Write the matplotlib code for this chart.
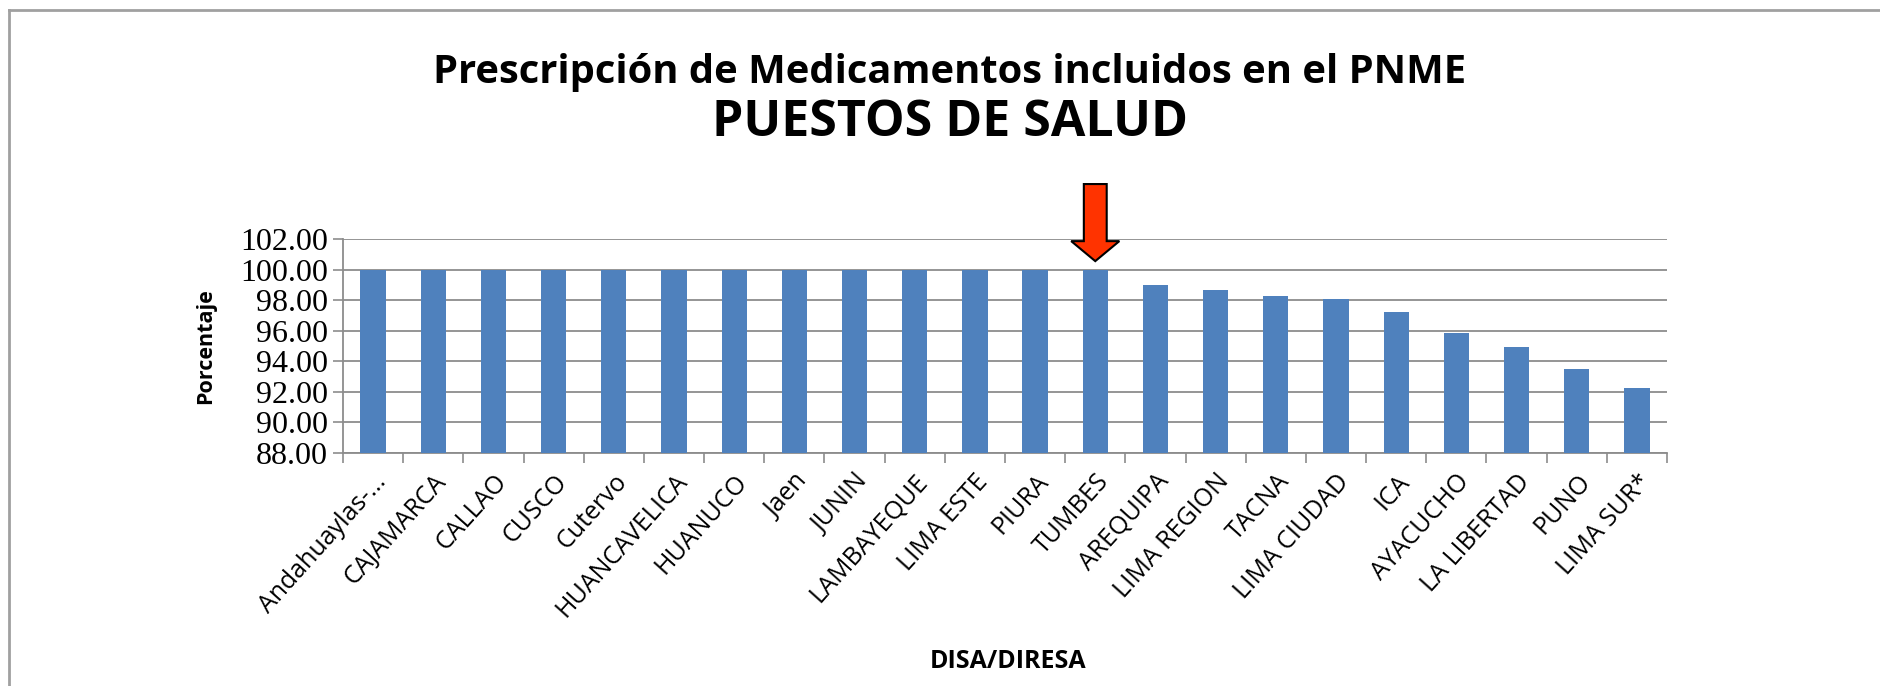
import matplotlib
matplotlib.use("Agg")
import matplotlib.pyplot as plt
from matplotlib.lines import Line2D
from matplotlib.patches import FancyArrow
import numpy as np

# ---- data ----
categories = ["Andahuaylas-...", "CAJAMARCA", "CALLAO", "CUSCO", "Cutervo",
              "HUANCAVELICA", "HUANUCO", "Jaen", "JUNIN", "LAMBAYEQUE",
              "LIMA ESTE", "PIURA", "TUMBES", "AREQUIPA", "LIMA REGION",
              "TACNA", "LIMA CIUDAD", "ICA", "AYACUCHO", "LA LIBERTAD",
              "PUNO", "LIMA SUR*"]
values = [100.0, 100.0, 100.0, 100.0, 100.0, 100.0, 100.0, 100.0, 100.0,
          100.0, 100.0, 100.0, 100.0, 98.99, 98.68, 98.27, 98.05, 97.22,
          95.87, 94.93, 93.48, 92.22]
yticks = [88, 90, 92, 94, 96, 98, 100, 102]
highlight = "TUMBES"

title1 = "Prescripción de Medicamentos incluidos en el PNME"
title2 = "PUESTOS DE SALUD"
ylabel = "Porcentaje"
xlabel = "DISA/DIRESA"

W, H = 1880, 686
fig = plt.figure(figsize=(W / 100, H / 100), dpi=100)
fig.patch.set_facecolor("white")

ax = fig.add_axes([343 / W, 1 - 452.7 / H, (1667 - 343) / W, 213.7 / H])
x = np.arange(len(categories))
ax.bar(x, values, width=0.42, color="#4F81BD", zorder=3)
ax.set_xlim(-0.5, len(categories) - 0.5)
ax.set_ylim(88, 102)

grid_c = "#8C8C8C"
ax.set_yticks(yticks)
ax.set_yticklabels([f"{v:.2f}" for v in yticks])
ax.yaxis.grid(True, color=grid_c, linewidth=1.3, zorder=0)
ax.set_axisbelow(True)
ax.tick_params(axis="y", length=7, width=1.2, color=grid_c, pad=4)
for t in ax.get_yticklabels():
    t.set_fontfamily("Liberation Serif")
    t.set_fontsize(23)

ax.set_xticks(x)
ax.set_xticklabels(categories)
ax.tick_params(axis="x", which="major", length=0, pad=12)
ax.set_xticks(np.arange(-0.5, len(categories)), minor=True)
ax.tick_params(axis="x", which="minor", length=7, width=1.2, color=grid_c)
for t in ax.get_xticklabels():
    t.set_rotation(48)
    t.set_rotation_mode("anchor")
    t.set_ha("right")
    t.set_va("top")
    t.set_fontfamily("Open Sans")
    t.set_fontsize(18)

for s in ["top", "right"]:
    ax.spines[s].set_visible(False)
for s in ["left", "bottom"]:
    ax.spines[s].set_color(grid_c)
    ax.spines[s].set_linewidth(1.3)

# arrow pointing at highlighted bar
hi = categories.index(highlight)
arr = FancyArrow(hi, 105.6, 0, -5.05, width=0.38, head_width=0.8,
                 head_length=1.31, length_includes_head=True,
                 fc="#FF3300", ec="black", lw=1.5, clip_on=False, zorder=5)
ax.add_patch(arr)

fig.text(950 / W, 1 - 73 / H, title1, ha="center", va="center",
         family="Open Sans", fontweight="bold", fontsize=28.7)
fig.text(950 / W, 1 - 123 / H, title2, ha="center", va="center",
         family="Open Sans", fontweight="bold", fontsize=36)
fig.text(206 / W, 1 - 346 / H, ylabel, rotation=90, ha="center", va="center",
         family="Open Sans", fontweight="bold", fontsize=15.5)
fig.text(1008 / W, 1 - 661 / H, xlabel, ha="center", va="center",
         family="Open Sans", fontweight="bold", fontsize=18)

# frame lines (top and left)
fig.add_artist(Line2D([9 / W, 1], [1 - 10 / H, 1 - 10 / H], color="#A0A0A0", lw=2))
fig.add_artist(Line2D([9 / W, 9 / W], [0, 1 - 10 / H], color="#A0A0A0", lw=2))

fig.savefig("out.png", dpi=100)
